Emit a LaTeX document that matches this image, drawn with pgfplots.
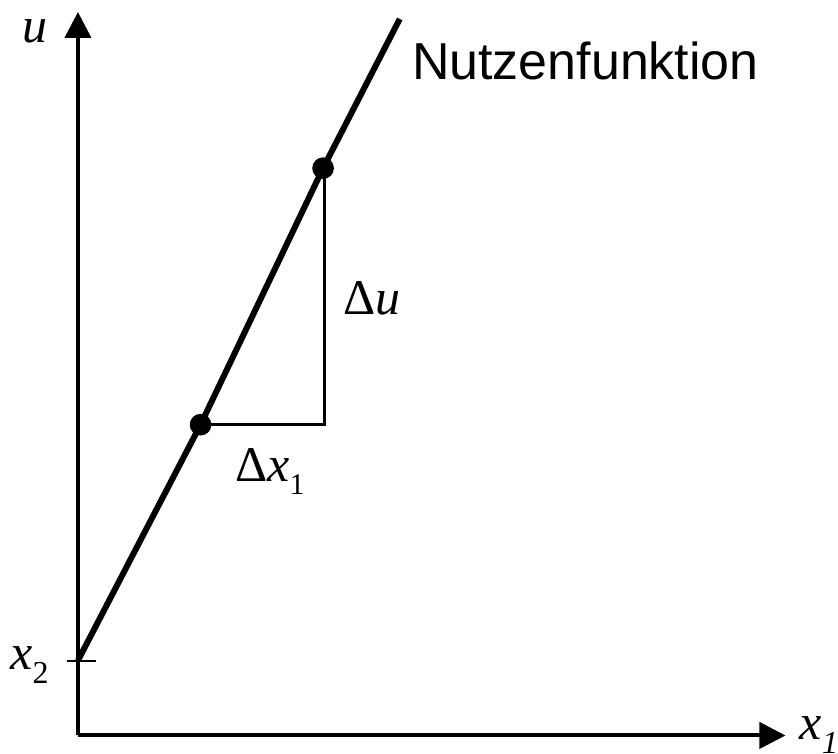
\documentclass[border=0pt]{standalone}
\usepackage{fontspec}
\setmainfont{Liberation Serif}
\newfontfamily\sansf{Liberation Sans}
\usepackage{pgfplots}
\pgfplotsset{compat=1.18}
\usetikzlibrary{arrows.meta}
\begin{document}
\begin{tikzpicture}
\begin{axis}[
  scale only axis,
  width=354pt, height=362pt,
  xmin=78, xmax=786, ymin=15, ymax=739,
  enlargelimits=false,
  axis lines=left,
  axis line style={line width=2pt, -{Triangle[length=13pt,width=13pt]}},
  xtick=\empty, ytick=\empty,
  clip=false,
]
\path (axis cs:0,0) rectangle (axis cs:838,751);
% tick at x2
\addplot[black, line width=1pt, no marks] coordinates {(67,90) (96,90)};
% utility function
\addplot[black, line width=3pt, no marks, line cap=butt] coordinates {(78,90) (200.7,326) (323.3,582.7) (400,732)};
% triangle
\addplot[black, line width=1.5pt, no marks] coordinates {(200.7,326) (325,326) (325,582.7)};
% points
\addplot[only marks, mark=*, mark size=5.2pt, black] coordinates {(200.7,326) (323.3,582.7)};
% labels
\node[anchor=base west, inner sep=0pt] at (axis cs:22,708) {\fontsize{25}{25}\selectfont\textit{u}};
\node[anchor=base west, inner sep=0pt] at (axis cs:10,81) {\fontsize{25}{25}\selectfont\textit{x}\raisebox{-7pt}{\fontsize{16}{16}\selectfont 2}};
\node[anchor=base west, inner sep=0pt] at (axis cs:800,11) {\fontsize{25}{25}\selectfont\textit{x}\raisebox{-7pt}{\fontsize{16}{16}\selectfont\textit{1}}};
\node[anchor=base west, inner sep=0pt] at (axis cs:343,436) {\fontsize{25}{25}\selectfont Δ\textit{u}};
\node[anchor=base west, inner sep=0pt] at (axis cs:235,269) {\fontsize{25}{25}\selectfont Δ\textit{x}\raisebox{-6.5pt}{\fontsize{15}{15}\selectfont 1}};
\node[anchor=base west, inner sep=0pt] at (axis cs:412,671) {\sansf\fontsize{26}{26}\selectfont Nutzenfunktion};
\end{axis}
\end{tikzpicture}
\end{document}
